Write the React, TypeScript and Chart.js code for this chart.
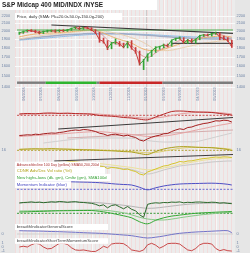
import React, { useEffect, useRef } from "react";
import { Chart, registerables } from "chart.js";

Chart.register(...registerables);

// ---------- time range ----------
const START = "2018-05-21";
const END = "2019-06-02";
const spanDates = [START, END];

// ---------- dates ----------
const weekDates = [
  "2018-05-25","2018-06-01","2018-06-08","2018-06-15","2018-06-22","2018-06-29","2018-07-06","2018-07-13","2018-07-20","2018-07-27",
  "2018-08-03","2018-08-10","2018-08-17","2018-08-24","2018-08-31","2018-09-07","2018-09-14","2018-09-21","2018-09-28","2018-10-05",
  "2018-10-12","2018-10-19","2018-10-26","2018-11-02","2018-11-09","2018-11-16","2018-11-23","2018-11-30","2018-12-07","2018-12-14",
  "2018-12-21","2018-12-28","2019-01-04","2019-01-11","2019-01-18","2019-01-25","2019-02-01","2019-02-08","2019-02-15","2019-02-22",
  "2019-03-01","2019-03-08","2019-03-15","2019-03-22","2019-03-29","2019-04-05","2019-04-12","2019-04-19","2019-04-26","2019-05-03",
  "2019-05-10","2019-05-17","2019-05-24","2019-05-31"
];
const biweekDates = [
  "2018-05-25","2018-06-08","2018-06-22","2018-07-06","2018-07-20","2018-08-03","2018-08-17","2018-08-31","2018-09-14","2018-09-28",
  "2018-10-12","2018-10-26","2018-11-09","2018-11-23","2018-12-07","2018-12-21","2019-01-04","2019-01-18","2019-02-01","2019-02-15",
  "2019-03-01","2019-03-15","2019-03-29","2019-04-12","2019-04-26","2019-05-10","2019-05-24","2019-05-31"
];
const monthTicks = [
  "2018-06-01","2018-07-01","2018-08-01","2018-09-01","2018-10-01","2018-11-01","2018-12-01",
  "2019-01-01","2019-02-01","2019-03-01","2019-04-01","2019-05-01"
];

// ---------- price panel ----------
const priceClose = [1975,1990,2005,2000,1990,1975,1990,2000,2000,1995,2005,2000,2010,2030,2045,2025,2040,2035,2010,1975,1890,1870,1790,1850,1865,1840,1800,1860,1790,1750,1620,1660,1720,1760,1800,1810,1830,1820,1885,1905,1910,1850,1890,1865,1895,1940,1950,1945,1965,1975,1920,1905,1880,1805];
const priceLow = [1955,1968,1985,1990,1975,1960,1965,1982,1988,1980,1985,1990,1992,2005,2025,2015,2018,2025,2000,1965,1860,1850,1775,1785,1840,1815,1795,1795,1780,1735,1610,1565,1650,1700,1745,1780,1795,1805,1815,1880,1895,1845,1845,1855,1850,1890,1930,1935,1935,1955,1890,1890,1870,1800];
const priceHigh = [1985,1998,2012,2015,2008,1995,1998,2008,2010,2012,2012,2015,2018,2035,2052,2050,2046,2050,2040,2015,1980,1910,1880,1860,1900,1870,1850,1870,1880,1800,1760,1670,1730,1770,1810,1815,1840,1840,1890,1910,1925,1915,1895,1900,1900,1945,1955,1960,1970,1985,1975,1935,1915,1885];
const priceTicks = [2200, 2100, 2000, 1900, 1800, 1700, 1600, 1500, 1400];

const sma20 = [1965,1985,1995,1990,1995,2000,2003,2020,2035,2030,1980,1890,1840,1840,1820,1730,1690,1740,1795,1830,1880,1880,1880,1930,1955,1955,1915,1890];
const sma50 = [1925,1945,1960,1968,1972,1978,1985,1995,2005,2012,1990,1950,1910,1880,1850,1800,1770,1765,1780,1810,1840,1870,1895,1915,1925,1935,1930,1920];
const sma100 = [1900,1915,1930,1945,1955,1965,1975,1985,1995,2000,2000,1990,1970,1945,1915,1880,1830,1775,1765,1770,1790,1810,1830,1850,1862,1875,1882,1885];
const sma150 = [1895,1905,1915,1925,1935,1945,1952,1958,1962,1965,1966,1966,1965,1962,1956,1950,1944,1937,1930,1922,1915,1910,1905,1902,1900,1900,1900,1900];
const sma200 = [1885,1893,1900,1908,1916,1925,1933,1941,1948,1954,1958,1960,1961,1961,1960,1957,1953,1948,1943,1937,1932,1927,1923,1920,1917,1915,1913,1911];

const resistDates = ["2018-07-20", END];
const resistVals = [2075, 1968];
const baseVals = [2010, 2010];
const supportDates = ["2019-02-14", END];
const supportVals = [1848, 1848];

const statusDates = ["2018-05-21","2018-07-10","2018-10-07","2018-10-12","2019-01-30","2019-06-02"];
const statusStates = ["neutral","bull","neutral","bear","neutral"];

// ---------- advance / decline panel ----------
const adShort = [320,325,322,328,330,326,328,324,322,318,305,300,295,285,280,268,262,290,318,345,350,346,340,338,335,325,315,310];
const adShortMa = [318,320,321,323,325,326,326,325,324,322,318,312,305,298,290,283,278,282,290,305,320,330,338,340,338,333,325,320];
const adShortLevel = [307, 307];
const adLine = [105,108,112,110,118,115,122,126,130,128,135,140,148,155,160,156,165,162,155,145,128,120,105,115,118,110,100,108,95,85,60,50,72,88,100,108,122,125,145,160,172,165,185,190,205,215,225,230,240,252,250,258,255,240];
const adMa = [95,100,105,110,115,120,126,132,138,142,143,138,130,122,115,105,95,95,100,110,125,140,158,175,192,208,222,230];
const adSlow = [null,null,null,30,40,50,60,70,76,80,80,80,80,80,78,70,55,45,40,40,42,42,43,60,80,100,120,130];
const adTrendDates = ["2018-08-01", END];
const adTrendVals = [170, 285];
const adLowTrendDates = ["2018-08-17", END];
const adLowTrendVals = [80, 160];

// ---------- yellow panel ----------
const advOsc = [16.7,17.0,17.2,17.0,17.3,17.0,16.8,16.5,16.2,16.0,15.6,15.3,15.0,14.4,14.0,12.5,11.5,14.5,17.0,18.5,19.3,19.3,18.8,18.5,18.3,17.5,16.5,15.5];
const advOscMa = [16.5,16.7,16.9,17,17,17,16.9,16.7,16.5,16.3,16,15.7,15.3,14.9,14.4,13.8,13.2,13.5,14.8,16.3,17.6,18.4,18.7,18.6,18.3,17.9,17.2,16.6];
const advLevel = [15.7, 15.7];
const advTrendDates = ["2018-07-25", END];
const advTrendVals = [5, 11.5];
const cdnr = [0,0.8,0.3,1.5,2,1.4,2.5,3,2.6,3.2,3.8,3.3,4,4.5,4.2,3.6,3.2,3.4,2.5,1.5,0,-0.5,-2.5,-1.5,-1.8,-2.5,-3.5,-3,-4.5,-5.5,-8,-9,-6,-4.5,-3,-1.5,0,0.5,2,3,4.5,4,5,5.2,6,6.8,7.5,7.8,8.5,9,8.7,9.2,9,8.5];
const cdnrMa = [0,0.5,1.2,1.8,2.4,3,3.4,3.6,3.5,3.1,2.4,1.5,0.5,-0.5,-1.5,-2.8,-3.8,-3.5,-2,-0.5,1.5,3,4.5,5.8,6.8,7.5,8,8.2];
const cdnrSlow = [-1,-0.8,-0.5,-0.3,0,0.1,0.2,0.2,0.1,0,-0.2,-0.8,-1.5,-2.5,-3.5,-6,-8,-6.5,-4,-2,0,1,2,3,4,4.5,5,5];
const yellowTicks = [16];

// ---------- momentum (blue) ----------
const momentum = [7.8,7.9,8,7.8,7.7,7.6,7.6,7.4,7.2,7,6.6,6,5.3,4.8,4.3,2,-0.5,1.5,3.3,4.5,5.3,5.6,5.8,6,6.1,5.8,5,4.3];
const momLevel = [0, 0];

// ---------- new highs - lows (green) ----------
const nhnl = [10.3,10.8,11.0,11.4,10.9,11.2,10.6,11.0,11.5,11.2,11.8,11.5,11.0,11.4,11.6,11.0,10.8,10.4,10.0,9.0,7.5,8.5,5.5,7.8,8.5,6.5,4.5,6.8,4.0,2.5,-1.5,-4,9.0,10.0,10.5,10.2,10.8,10.6,11.2,11.0,11.4,10.5,11.0,10.8,11.2,11.3,11.0,10.8,11.1,10.9,10.2,10.5,10.0,9.6];
const nhnlCum = [1.3,1.5,1.8,2.0,2.3,2.5,2.6,2.7,2.8,2.8,2.0,0.8,-0.8,-2.5,-4.5,-8.5,-10.5,-7,-4.5,-2.8,-1.8,-0.8,0,0.5,0.9,1.3,1.6,1.8];
const nhnlSma = [2.3,2.4,2.5,2.6,2.7,2.8,2.9,3.0,3.1,3.2,3.3,2.8,1.8,0.5,-1.5,-4,-5.7,-6.5,-6.7,-5.8,-4.5,-3.3,-2.2,-1.2,-0.5,0.2,0.8,1.3];
const nhnlSlow = [10.5,10.6,10.8,10.9,11,11.1,11.2,11.2,11.1,10.9,10.5,9.8,9.0,8.0,7.0,5.8,5.0,5.3,6.2,7.2,8.2,9.0,9.6,10.0,10.2,10.3,10.3,10.3];
const nhLevel = [0, 0];

// ---------- breadth scores ----------
const generalScore = [33,31,30,28,25,23,20,17,13,10,7,2,-4,-10,-17,-30,-40,-32,-20,-5,7,14,20,24,28,32,33,12];
const scoreLevel = [0, 0];
const scoreTicks = [0];
const stMomentum = [0,0.2,0,0.6,1,0.8,0,-0.5,-0.4,0.3,1,1,0.7,-0.2,-0.8,-0.9,-0.8,-1,-1.2,-1.2,-0.6,0.2,-0.2,0.8,1,1,0.9,0.2,-0.8,-1,-1.2,-0.8,0.6,1,0.5,-0.3,0.2,0.9,1,1,0.8,0,-0.8,-1,-0.4,0.6,1,1,0.8,-0.4,-1,-0.7,-1,-1.1];
const stTicks = [1, 0, -1];

// ---------- texts ----------
const TITLE = "S&P Midcap 400 MID/INDX /NYSE";
const PRICE_LEGEND = "Price, daily (SMA: Pk=20.0r-50.0y-150.0g-200)";
const AD_LEGEND = "Advance/decline 100 Day (yellow) SMA50,200,200d";
const CDNR_LEGEND = "CDNR Adv/Dec Vol ratio (Yel)";
const NH_LEGEND = "New highs-lows (dk. grn), Cmltv (grn), SMA100d";
const MOM_LEGEND = "Momentum Indicator (blue)";
const GS_LEGEND = "breadthIndicatorGeneralScore";
const ST_LEGEND = "breadthIndicatorShortTermMomentumScore";

// ---------- styling / layout ----------
const W = 250;
const H = 253;
const BG = "#e6e6e6";
const AREA = "#ececec";
const AXIS_TXT = "#6f84a6";
const UP = "#35a335";
const DOWN = "#c93a3a";
const STATUS_COLORS: Record<string, string> = { neutral: "#7d7d7d", bull: "#2fb52f", bear: "#c82828" };
const TXT_FONT = '4.2px "Liberation Sans", Arial, sans-serif';
const AXIS_FONT = '3.9px "Liberation Sans", Arial, sans-serif';

const day = (d: string) => Math.round((Date.parse(d) - Date.parse(START)) / 864e5);
const series = (dates: string[], vals: (number | null)[]) => dates.map((d, i) => ({ x: day(d), y: vals[i] }));

function linBand(vTop: number, vBot: number, yTop: number, yBot: number) {
  const s = (vTop - vBot) / (yBot - yTop);
  return { min: vBot - (H - yBot) * s, max: vTop + yTop * s };
}
function logBand(vTop: number, vBot: number, yTop: number, yBot: number) {
  const k = (yBot - yTop) / Math.log(vTop / vBot);
  const lnMax = Math.log(vTop) + yTop / k;
  return { min: Math.exp(lnMax - H / k), max: Math.exp(lnMax) };
}

function ln(label: string, dates: string[], vals: (number | null)[], axis: string, color: string, extra: any = {}) {
  return {
    type: "line",
    label,
    data: series(dates, vals),
    yAxisID: axis,
    borderColor: color,
    borderWidth: 1,
    pointRadius: 0,
    fill: false,
    tension: 0,
    order: 5,
    ...extra,
  };
}

const weekGrid: number[] = [];
for (let d = 0; d <= day(END); d += 7) weekGrid.push(d);

function buildConfig(): any {
  const wickColors = priceClose.map((c, i) => (i === 0 || c >= priceClose[i - 1] ? UP : DOWN));
  const datasets: any[] = [
    {
      type: "line",
      label: "Price",
      data: series(weekDates, priceClose),
      yAxisID: "yp",
      borderColor: UP,
      borderWidth: 1,
      pointRadius: 0,
      order: 0,
      segment: { borderColor: (c: any) => (c.p1.parsed.y >= c.p0.parsed.y ? UP : DOWN) },
    },
    {
      type: "bar",
      label: "Range",
      data: weekDates.map((d, i) => ({ x: day(d), y: [priceLow[i], priceHigh[i]] })),
      yAxisID: "yp",
      backgroundColor: wickColors,
      barThickness: 1,
      order: 1,
    },
    ln("SMA20", biweekDates, sma20, "yp", "#df9a9a", { tension: 0.4, order: 4 }),
    ln("SMA50", biweekDates, sma50, "yp", "#ebb06c", { tension: 0.4, order: 4 }),
    ln("SMA100", biweekDates, sma100, "yp", "#e8cfae", { tension: 0.4 }),
    ln("SMA150", biweekDates, sma150, "yp", "#a0adc6", { tension: 0.4, borderWidth: 1.5 }),
    ln("SMA200", biweekDates, sma200, "yp", "#8fbde8", { tension: 0.4 }),
    ln("Resistance", resistDates, resistVals, "yp", "#3a3a3a", { order: 2, borderWidth: 1.1 }),
    ln("Base", spanDates, baseVals, "yp", "#4cac4c", { order: 3 }),
    ln("Support", supportDates, supportVals, "yp", "#4a4a4a", { order: 2, borderWidth: 1.2 }),
    {
      type: "line",
      label: "Status",
      data: statusDates.map((d) => ({ x: day(d), y: 0 })),
      yAxisID: "ys",
      borderColor: STATUS_COLORS.neutral,
      borderWidth: 2.4,
      borderCapStyle: "butt",
      pointRadius: 0,
      order: 2,
      segment: { borderColor: (c: any) => STATUS_COLORS[statusStates[c.p0DataIndex]] },
    },
    ln("A/D short", biweekDates, adShort, "yr", "#b62626", { tension: 0.35, order: 3 }),
    ln("A/D short MA", biweekDates, adShortMa, "yr", "#e49b9b", { tension: 0.35 }),
    ln("A/D short level", spanDates, adShortLevel, "yr", "#c85050", { borderDash: [2, 1.5] }),
    ln("A/D line", weekDates, adLine, "yr", "#a31c1c", { order: 3 }),
    ln("A/D MA", biweekDates, adMa, "yr", "#e6a3a3", { tension: 0.35 }),
    ln("A/D slow", biweekDates, adSlow, "yr", "#d0d0d0", { tension: 0.35, order: 6 }),
    ln("A/D low trend", adLowTrendDates, adLowTrendVals, "yr", "#d4aeae"),
    ln("A/D trend", adTrendDates, adTrendVals, "yr", "#3c3c3c", { borderWidth: 1.1, order: 2 }),
    ln("Adv osc", biweekDates, advOsc, "yy", "#ac9f1e", { tension: 0.35, order: 3 }),
    ln("Adv osc MA", biweekDates, advOscMa, "yy", "#ddd072", { tension: 0.35 }),
    ln("Adv level", spanDates, advLevel, "yy", "#b0a030", { borderDash: [2, 1.5] }),
    ln("Adv trend", advTrendDates, advTrendVals, "yy", "#3c3c3c", { borderWidth: 1.1, order: 2 }),
    ln("CDNR", weekDates, cdnr, "yy", "#d5c42a", { order: 3 }),
    ln("CDNR MA", biweekDates, cdnrMa, "yy", "#ebe19c", { tension: 0.35 }),
    ln("CDNR slow", biweekDates, cdnrSlow, "yy", "#c8c8c8", { tension: 0.35, order: 6 }),
    ln("Momentum", biweekDates, momentum, "yb", "#4d4dc4", { tension: 0.35, order: 3 }),
    ln("Momentum level", spanDates, momLevel, "yb", "#6a6ad0", { borderDash: [2, 1.5] }),
    ln("NH-NL", weekDates, nhnl, "yg", "#2a682a", { order: 3 }),
    ln("NH-NL cum", biweekDates, nhnlCum, "yg", "#33a833", { tension: 0.35, order: 3 }),
    ln("NH-NL SMA", biweekDates, nhnlSma, "yg", "#86c986", { tension: 0.35 }),
    ln("NH-NL slow", biweekDates, nhnlSlow, "yg", "#b4b4b4", { tension: 0.35, order: 6 }),
    ln("NH level", spanDates, nhLevel, "yg", "#3a9a3a", { borderDash: [2, 1.5] }),
    ln("General score", biweekDates, generalScore, "ysc", "#7373c8", { tension: 0.35, order: 3 }),
    ln("Score level", spanDates, scoreLevel, "ysc", "#cfcfcf", { order: 6 }),
    ln("ST momentum", weekDates, stMomentum, "ym", "#c84848", { order: 3 }),
  ];

  const hidden = (extra: any) => ({ display: false, bounds: "data", ...extra });
  const janDay = day("2019-01-01");

  return {
    type: "line",
    data: { datasets },
    options: {
      animation: false,
      responsive: false,
      devicePixelRatio: 1,
      layout: { padding: { left: 15, right: 15, top: 0, bottom: 0 } },
      plugins: { legend: { display: false }, tooltip: { enabled: false }, title: { display: false } },
      scales: {
        x: {
          type: "linear",
          min: 0,
          max: day(END),
          bounds: "data",
          ticks: { display: false },
          border: { display: false },
          grid: { color: "#f2dcdc", drawTicks: false, lineWidth: 1 },
          afterBuildTicks: (axis: any) => {
            axis.ticks = weekGrid.map((v) => ({ value: v }));
          },
          afterFit: (axis: any) => {
            axis.height = 0;
          },
        },
        xm: {
          type: "linear",
          position: "bottom",
          min: 0,
          max: day(END),
          bounds: "data",
          ticks: { display: false },
          border: { display: false },
          grid: {
            drawTicks: false,
            lineWidth: 1,
            color: (c: any) => (c.tick && c.tick.value === janDay ? "#cbcbcb" : "#f8f8f8"),
          },
          afterBuildTicks: (axis: any) => {
            axis.ticks = monthTicks.map((d) => ({ value: day(d) }));
          },
          afterFit: (axis: any) => {
            axis.height = 0;
          },
        },
        yp: hidden({ type: "logarithmic", ...logBand(2200, 1400, 15.7, 87.3) }),
        ys: hidden({ type: "linear", ...linBand(1, -1, 81.7, 83.7) }),
        yr: hidden({ type: "linear", ...linBand(380, 0, 108, 146) }),
        yy: hidden({ type: "linear", ...linBand(16, -9, 150, 175) }),
        yb: hidden({ type: "linear", ...linBand(10, 0, 179.3, 189.3) }),
        yg: hidden({ type: "linear", ...linBand(16.3, 0, 197, 213.3) }),
        ysc: hidden({ type: "linear", ...linBand(40, 0, 230, 234) }),
        ym: hidden({ type: "linear", ...linBand(1, -1, 243.3, 250.7) }),
      },
    },
    plugins: [panelPlugin],
  };
}

function textBox(ctx: any, text: string, x: number, yTop: number, h: number, boxW: number, maxW: number, color: string) {
  ctx.fillStyle = "#ffffff";
  ctx.fillRect(x, yTop, boxW, h);
  ctx.font = TXT_FONT;
  ctx.fillStyle = color;
  ctx.textAlign = "left";
  ctx.textBaseline = "middle";
  ctx.fillText(text, x + 1.8, yTop + h / 2 + 0.2, maxW);
}

const panelPlugin = {
  id: "panels",
  beforeDraw(chart: any) {
    const { ctx, chartArea: a } = chart;
    ctx.save();
    ctx.fillStyle = BG;
    ctx.fillRect(0, 0, W, H);
    ctx.fillStyle = AREA;
    ctx.fillRect(a.left, a.top, a.right - a.left, a.bottom - a.top);
    ctx.restore();
  },
  beforeDatasetsDraw(chart: any) {
    const { ctx, chartArea: a } = chart;
    const yp = chart.scales.yp;
    ctx.save();
    ctx.strokeStyle = "#fafafa";
    ctx.lineWidth = 1;
    for (const t of priceTicks) {
      const y = Math.round(yp.getPixelForValue(t)) + 0.5;
      ctx.beginPath();
      ctx.moveTo(a.left, y);
      ctx.lineTo(a.right, y);
      ctx.stroke();
    }
    ctx.restore();
  },
  afterDraw(chart: any) {
    const { ctx, chartArea: a } = chart;
    const xs = chart.scales.x;
    ctx.save();

    ctx.font = AXIS_FONT;
    ctx.fillStyle = AXIS_TXT;
    ctx.textBaseline = "middle";
    ctx.textAlign = "left";
    const both = (scale: any, vals: number[]) => {
      for (const v of vals) {
        const y = scale.getPixelForValue(v);
        ctx.fillText(String(v), 1.5, y);
        ctx.fillText(String(v), a.right + 1.5, y);
      }
    };
    both(chart.scales.yp, priceTicks);
    both(chart.scales.yy, yellowTicks);
    both(chart.scales.ysc, scoreTicks);
    both(chart.scales.ym, stTicks);

    ctx.font = '3.7px "Liberation Sans", Arial, sans-serif';
    ctx.textAlign = "center";
    for (const d of monthTicks) {
      const x = xs.getPixelForValue(day(d));
      const label = d.slice(5, 7) + "/" + d.slice(0, 4);
      ctx.save();
      ctx.translate(x + 0.5, 94);
      ctx.rotate(-Math.PI / 2);
      ctx.fillText(label, 0, 0);
      ctx.restore();
    }

    ctx.fillStyle = "#ffffff";
    ctx.fillRect(0, 0, 157, 10);
    ctx.font = 'bold 7px "Liberation Sans", Arial, sans-serif';
    ctx.fillStyle = "#1e1e1e";
    ctx.textAlign = "left";
    ctx.textBaseline = "alphabetic";
    ctx.fillText(TITLE, 2, 6.6, 101);

    textBox(ctx, PRICE_LEGEND, a.left, 13, 7, 107, 96, "#333333");
    textBox(ctx, AD_LEGEND, a.left, 161.7, 5.6, 85, 82, "#a83030");
    textBox(ctx, CDNR_LEGEND, a.left, 167.3, 6.6, 90, 70, "#b3a41e");
    textBox(ctx, NH_LEGEND, a.left, 173.9, 7.2, 96, 92, "#33a033");
    textBox(ctx, MOM_LEGEND, a.left, 181.1, 6.8, 56, 52, "#4646c0");
    textBox(ctx, GS_LEGEND, a.left, 224, 6, 93, 56, "#444444");
    textBox(ctx, ST_LEGEND, a.left, 238.2, 5.6, 93, 84, "#444444");

    ctx.restore();
  },
};

export default function App() {
  const ref = useRef<HTMLCanvasElement | null>(null);
  useEffect(() => {
    if (!ref.current) return;
    const chart = new Chart(ref.current, buildConfig());
    return () => chart.destroy();
  }, []);
  return (
    <div style={{ position: "absolute", left: 0, top: 0, width: W, height: H, background: BG, overflow: "hidden" }}>
      <canvas ref={ref} width={W} height={H} style={{ display: "block", width: W, height: H }} />
    </div>
  );
}
